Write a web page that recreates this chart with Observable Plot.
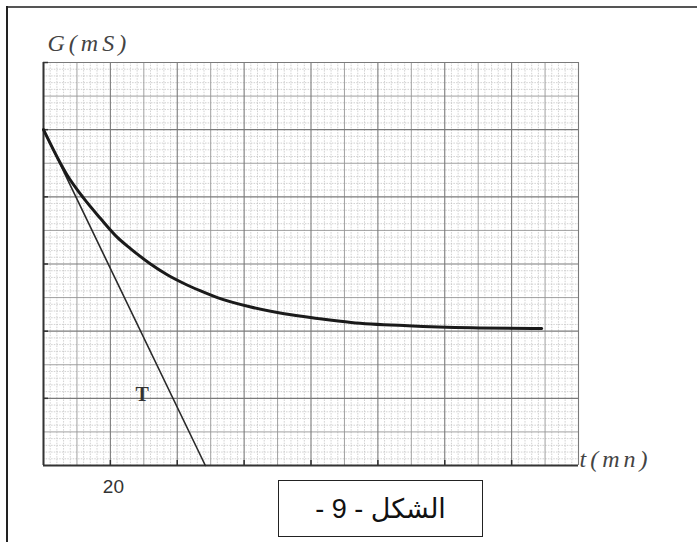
<!DOCTYPE html>
<html><head><meta charset="utf-8">
<script src="https://cdn.jsdelivr.net/npm/d3@7"></script>
<script src="https://cdn.jsdelivr.net/npm/@observablehq/plot@0.6"></script>
<style>
html,body{margin:0;padding:0;background:#fff;}
#wrap{position:relative;width:697px;height:542px;overflow:hidden;background:#fff;}
#chart{position:absolute;left:0;top:0;}
#frameTop{position:absolute;left:6px;top:6px;width:691px;height:2px;background:#555;}
#frameLeft{position:absolute;left:6px;top:6px;width:2px;height:536px;background:#222;}
#caption{position:absolute;left:278px;top:480px;width:205px;height:57px;box-sizing:border-box;border:1.5px solid #222;background:#fff;display:flex;align-items:center;justify-content:center;font-family:"Liberation Sans","DejaVu Sans",sans-serif;font-size:27px;color:#111;direction:rtl;}
</style></head><body>
<div id="wrap"><div id="chart"></div><div id="frameTop"></div><div id="frameLeft"></div><div id="caption">الشكل - 9 -</div></div>
<script>
// Curve G(t) (t in mn, G in grid units of mS)
const timeMn = [0, 7, 12, 17, 22, 26, 32, 37, 42, 47, 52, 62, 72, 82, 92, 109, 128, 149];
const conductance = [5.0, 4.33, 3.98, 3.68, 3.4, 3.23, 3.0, 2.84, 2.71, 2.6, 2.5, 2.36, 2.26, 2.19, 2.13, 2.08, 2.05, 2.04];
// Tangent T at t = 0
const tangentT = [0, 48.4];
const tangentG = [5, 0];
// Axis labels
const xTickLabels = [20];
const yAxisLabel = "G(mS)";
const xAxisLabel = "t(mn)";
const tangentLabel = "T";
const tangentLabelPos = {t: 29.5, g: 1.06};

const xDomain = [0, 160];
const yDomain = [0, 6];
const majorT = d3.range(0, 161, 20);
const mediumT = d3.range(10, 160, 20);
const minorT = d3.range(0, 161, 2).filter(v => v % 10 !== 0);
const majorG = d3.range(0, 7, 1);
const mediumG = d3.range(0.5, 6, 1);
const minorG = d3.range(0, 61, 1).map(v => v / 10).filter((v, i) => i % 5 !== 0);

const curveData = timeMn.map((t, i) => ({t, g: conductance[i]}));
const tangentData = tangentT.map((t, i) => ({t, g: tangentG[i]}));

const W = 697, H = 542;
const mL = 43, mR = 119, mT = 62, mB = 77;
const innerW = W - mL - mR, innerH = H - mT - mB;

const chart = Plot.plot({
  width: W, height: H,
  marginLeft: mL, marginRight: mR, marginTop: mT, marginBottom: mB,
  x: {domain: xDomain, axis: null},
  y: {domain: yDomain, axis: null},
  style: {background: "transparent"},
  marks: [
    Plot.ruleX(minorT, {stroke: "#bdbdbd", strokeWidth: 0.7, strokeDasharray: "1.5,1.2"}),
    Plot.ruleY(minorG, {stroke: "#bdbdbd", strokeWidth: 0.7, strokeDasharray: "1.5,1.2"}),
    Plot.ruleX(mediumT, {stroke: "#959595", strokeWidth: 0.9}),
    Plot.ruleY(mediumG, {stroke: "#959595", strokeWidth: 0.9}),
    Plot.ruleX(majorT, {stroke: "#7a7a7a", strokeWidth: 1.1}),
    Plot.ruleY(majorG, {stroke: "#7a7a7a", strokeWidth: 1.1}),
    // axes
    Plot.ruleX([0], {stroke: "#333", strokeWidth: 2}),
    Plot.ruleY([0], {stroke: "#333", strokeWidth: 2}),
    Plot.tickX(majorT.slice(1, -1), {x: d => d, stroke: "#333", strokeWidth: 1.5, insetTop: innerH - 5}),
    Plot.tickY(majorG.slice(1), {y: d => d, stroke: "#333", strokeWidth: 1.5, insetRight: innerW - 5}),
    // tangent and curve
    Plot.line(tangentData, {x: "t", y: "g", stroke: "#2a2a2a", strokeWidth: 1.6}),
    Plot.line(curveData, {x: "t", y: "g", curve: "monotone-x", stroke: "#1a1a1a", strokeWidth: 3}),
    // labels
    Plot.text([tangentLabel], {x: tangentLabelPos.t, y: tangentLabelPos.g, text: d => d, fontFamily: "Liberation Serif", fontWeight: "bold", fontSize: 20, fill: "#333"}),
    Plot.text(xTickLabels, {x: d => d, y: 0, text: d => String(d), dx: 3, dy: 21, fontFamily: "Liberation Sans", fontSize: 19, fill: "#333"}),
    Plot.text([yAxisLabel], {x: 0, y: 6, text: d => d, textAnchor: "start", dx: 4, dy: -19, fontFamily: "Liberation Serif", fontStyle: "italic", fontSize: 24, fill: "#444"}),
    Plot.text([xAxisLabel], {x: 160, y: 0, text: d => d, textAnchor: "start", dx: 1, dy: -6, fontFamily: "Liberation Serif", fontStyle: "italic", fontSize: 24, fill: "#444"})
  ]
});
chart.querySelectorAll("text").forEach(t => { if (t.textContent === yAxisLabel || t.textContent === xAxisLabel) t.setAttribute("letter-spacing", "4"); });
document.getElementById("chart").appendChild(chart);
</script>
</body></html>
